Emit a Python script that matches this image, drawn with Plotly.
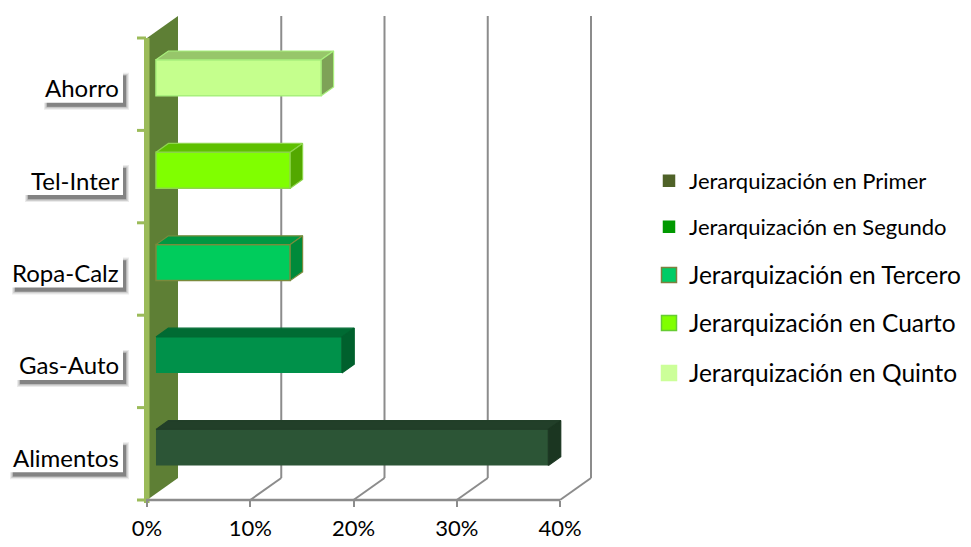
import plotly.graph_objects as go

# ---- data -------------------------------------------------------------
categories = ["Alimentos", "Gas-Auto", "Ropa-Calz", "Tel-Inter", "Ahorro"]
series_names = [
    "Jerarquización en Primer",
    "Jerarquización en Segundo",
    "Jerarquización en Tercero",
    "Jerarquización en Cuarto",
    "Jerarquización en Quinto",
]
values = [38, 18, 13, 13, 16]          # percent, one per category
x_ticks = [0, 10, 20, 30, 40]
x_tick_labels = ["0%", "10%", "20%", "30%", "40%"]

# ---- styles -----------------------------------------------------------
FONT = "Lato"
front_colors = ["#2C5536", "#00914A", "#00CC5C", "#80FF00", "#C5FF8D"]
top_colors = ["#223F29", "#006B33", "#009842", "#5EC000", "#97C66A"]
side_colors = ["#1B3621", "#00602D", "#008A3A", "#53A800", "#7EA257"]
edge_colors = ["#2C5536", "#00914A", "#7A8B3C", "#8ED64C", "#A8F07C"]
legend_colors = ["#4F6228", "#009900", "#00CC66", "#80FF00", "#CCFF99"]
legend_edges = ["#4F6228", "#009900", "#7F7F3F", "#66CC33", "#CCFF99"]
legend_sizes = [11, 11, 15, 15, 15]
legend_font = [22, 22, 24.5, 24.5, 24.5]
legend_yc = [181, 227, 275, 323, 373]      # pixel centres of legend rows
label_box_left = [10, 17, 12, 25, 44]       # pixel left edge of label boxes

W, H = 971, 547
PX_X0, PX_PER_UNIT = 147.0, 10.325          # 0% on the front plane, px per 1%
PX_Y0, PX_PER_ROW = 500.0, 92.4             # floor front edge, px per category
DX, DY = 31 / PX_PER_UNIT, 22 / PX_PER_ROW  # depth offset of the back wall
BAR_FRONT, BAR_DEPTH = 0.29, 0.40           # bar position inside the depth
BAR_H = 36 / PX_PER_ROW
GRID = "#8C8C8C"


def ux(px):
    return (px - PX_X0) / PX_PER_UNIT


def uy(py):
    return (PX_Y0 - py) / PX_PER_ROW


n = len(categories)
fig = go.Figure()
shapes = []

# side wall and its lighter front edge
shapes.append(dict(type="path", layer="below",
                   path=f"M0,0 L{DX},{DY} L{DX},{n + DY} L0,{n} Z",
                   fillcolor="#5E7F35", line=dict(width=0)))
shapes.append(dict(type="rect", layer="below", x0=ux(144), x1=ux(149.5),
                   y0=uy(503), y1=n, fillcolor="#9BBB59", line=dict(width=0)))
for k in range(n + 1):
    shapes.append(dict(type="line", layer="below", x0=ux(137), x1=ux(146),
                       y0=k, y1=k, line=dict(color="#9BBB59", width=3)))

# floor edge, floor diagonals and back-wall gridlines
shapes.append(dict(type="line", layer="below", x0=ux(146), x1=x_ticks[-1],
                   y0=0, y1=0, line=dict(color=GRID, width=2.5)))
for v in x_ticks[1:]:
    shapes.append(dict(type="line", layer="below", x0=v, y0=0, x1=v + DX, y1=DY,
                       line=dict(color=GRID, width=2)))
    shapes.append(dict(type="line", layer="below", x0=v + DX, y0=DY, x1=v + DX,
                       y1=n + DY, line=dict(color=GRID, width=2)))

# 3-D bars: front faces as bars, top and end faces as filled polygons
bx, by = BAR_DEPTH * DX, BAR_DEPTH * DY
for i, (cat, val) in enumerate(zip(categories, values)):
    yc = i + 0.5 + BAR_FRONT * DY
    x0 = BAR_FRONT * DX
    x1 = x0 + val
    yt, yb = yc + BAR_H / 2, yc - BAR_H / 2
    fig.add_trace(go.Scatter(
        x=[x0, x1, x1 + bx, x0 + bx, x0], y=[yt, yt, yt + by, yt + by, yt],
        fill="toself", fillcolor=top_colors[i], mode="lines",
        line=dict(color=edge_colors[i] if i >= 2 else top_colors[i], width=1.2),
        showlegend=False, hoverinfo="skip", legendgroup=series_names[i]))
    fig.add_trace(go.Scatter(
        x=[x1, x1 + bx, x1 + bx, x1, x1], y=[yb, yb + by, yt + by, yt, yb],
        fill="toself", fillcolor=side_colors[i], mode="lines",
        line=dict(color=edge_colors[i] if i >= 2 else side_colors[i], width=1.2),
        showlegend=False, hoverinfo="skip", legendgroup=series_names[i]))
    fig.add_trace(go.Bar(
        orientation="h", y=[yc], x=[val], base=[x0], width=BAR_H,
        marker=dict(color=front_colors[i],
                    line=dict(color=edge_colors[i], width=1.5 if i >= 2 else 0)),
        name=series_names[i], showlegend=False, legendgroup=series_names[i],
        hovertemplate=f"{cat}: %{{x}}%<extra>{series_names[i]}</extra>"))

# legend entries, one legend box per row
for i, name in enumerate(series_names):
    key = "legend" if i == 0 else f"legend{i + 1}"
    fig.add_trace(go.Scatter(
        x=[None], y=[None], mode="markers", name=name, legend=key,
        legendgroup=name,
        marker=dict(symbol="square", size=legend_sizes[i], color=legend_colors[i],
                    line=dict(color=legend_edges[i], width=1.5))))
    fig.update_layout({key: dict(
        x=649 / W, xanchor="left", y=1 - legend_yc[i] / H, yanchor="middle",
        bgcolor="rgba(0,0,0,0)", itemwidth=30,
        font=dict(family=FONT, size=legend_font[i], color="#000000"))})

# category labels in white boxes with a soft drop shadow
annotations = []
for i, cat in enumerate(categories):
    yc_px = PX_Y0 - PX_PER_ROW * (i + 0.5) + 3.5
    left, right = label_box_left[i], 123
    top, bot = yc_px - 16, yc_px + 15
    for grow, alpha in ((3, 0.08), (1.8, 0.12), (0.6, 0.18), (0, 0.22)):
        shapes.append(dict(type="rect", layer="below",
                           x0=ux(left + 3 - grow), x1=ux(right + 3 + grow),
                           y0=uy(bot + 4 + grow), y1=uy(top + 4 - grow),
                           fillcolor=f"rgba(0,0,0,{alpha})", line=dict(width=0)))
    shapes.append(dict(type="rect", layer="below", x0=ux(left), x1=ux(right),
                       y0=uy(bot), y1=uy(top), fillcolor="#FFFFFF",
                       line=dict(width=0)))
    annotations.append(dict(x=ux(121), y=uy(yc_px), xref="x", yref="y",
                            text=cat, showarrow=False, xanchor="right",
                            yanchor="middle",
                            font=dict(family=FONT, size=24, color="#000000")))

fig.update_layout(
    width=W, height=H,
    margin=dict(l=0, r=0, t=0, b=0),
    paper_bgcolor="#FFFFFF", plot_bgcolor="#FFFFFF",
    barmode="overlay",
    shapes=shapes, annotations=annotations,
    xaxis=dict(range=[ux(0), ux(W)], showgrid=False, zeroline=False,
               showline=False, tickvals=x_ticks, ticktext=x_tick_labels,
               ticks="outside", ticklen=6, tickwidth=2, tickcolor=GRID,
               anchor="free", position=(H - PX_Y0) / H, ticklabelstandoff=3,
               tickfont=dict(family=FONT, size=22, color="#000000"),
               fixedrange=True),
    yaxis=dict(range=[uy(H), uy(0)], visible=False, fixedrange=True),
)

fig.write_html("out.html")
